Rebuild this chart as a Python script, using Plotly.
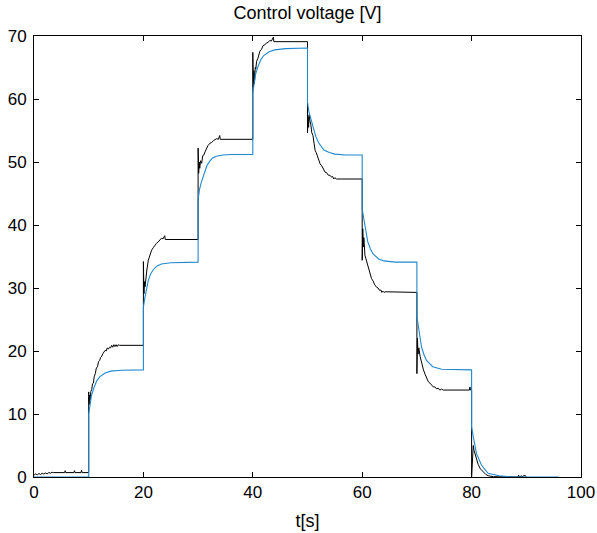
import plotly.graph_objects as go

# Model output (blue)
blue_t = [0, 10, 10, 10.25, 10.5, 11, 11.5, 12, 13, 14, 16, 20,
          20, 20.3, 20.6, 20.9, 21.3, 21.8, 22.5, 23.3, 25, 30,
          30, 30.25, 30.6, 31.2, 31.6, 32.1, 32.6, 33.3, 34.5, 36, 40,
          40, 40.25, 40.5, 41, 41.5, 42, 43, 44, 46, 50,
          50, 50.25, 50.5, 51, 51.5, 52, 52.5, 53, 54, 55, 57, 60,
          60, 60.2, 60.5, 61, 61.5, 62, 63, 64, 66, 70,
          70, 70.3, 70.85, 71.3, 71.75, 72.9, 74.5, 80,
          80, 80.3, 80.9, 81.8, 83, 85, 87, 96]
blue_v = [0, 0, 10, 11.8, 12.9, 14.3, 15.3, 15.9, 16.5, 16.8, 16.95, 17,
          27, 28.6, 30.0, 31.2, 32.2, 32.9, 33.5, 33.8, 34.0, 34.1,
          44, 45.6, 46.8, 48.5, 49.4, 50.1, 50.6, 50.9, 51.1, 51.2, 51.2,
          61, 62.6, 63.9, 65.3, 66.3, 66.9, 67.5, 67.8, 68.0, 68.1,
          59.5, 58.0, 57.2, 55.6, 54.1, 53.1, 52.4, 51.9, 51.5, 51.25, 51.1, 51.1,
          42.5, 41.5, 39.4, 37.4, 36.2, 35.4, 34.6, 34.3, 34.1, 34.1,
          25.5, 23.8, 20.6, 19.4, 18.5, 17.5, 17.1, 17.0,
          8.0, 6.4, 3.7, 1.9, 0.6, 0.2, 0.05, 0]

black_t = [0, 0.3, 0.6, 0.9, 1.2, 1.5, 1.8, 2.1, 2.4, 2.7, 3.0, 3.3, 3.6,
           5.6, 5.7, 5.8, 7.3, 7.4, 7.5, 8.6, 8.7, 8.8, 10,
           10, 10.08, 10.15, 10.25, 10.4, 10.55, 10.7, 10.85, 11.0, 11.2, 11.4,
           11.6, 11.8, 12.0, 12.2, 12.4, 12.6, 12.8, 13.0, 13.2, 13.4, 13.6,
           13.8, 14.0, 14.2, 14.4, 14.6, 14.8, 15.0, 15.2, 15.4, 15.6, 20,
           20, 20.1, 20.2, 20.3, 20.48, 20.65, 20.9, 21.1, 21.3, 21.5, 21.8,
           22.0, 22.4, 22.7, 23.0, 23.3, 23.6, 23.9, 24.0, 30,
           30, 30.1, 30.2, 30.3, 30.45, 30.65, 30.85, 31.05, 31.26, 31.5, 31.8,
           32.2, 32.5, 32.8, 33.1, 33.4, 33.7, 33.95, 34.05, 40,
           40, 40.1, 40.2, 40.3, 40.45, 40.55, 40.7, 40.95, 41.3, 41.6, 41.9,
           42.2, 42.5, 42.8, 43.1, 43.4, 43.75, 43.85, 50,
           50, 50.1, 50.2, 50.3, 50.45, 50.6, 50.77, 51.0, 51.2, 51.4, 51.6,
           51.9, 52.3, 52.6, 52.9, 53.2, 53.5, 53.8, 54.1, 54.4, 54.6, 54.8,
           55.0, 55.3, 60,
           60, 60.1, 60.2, 60.3, 60.5, 60.8, 61.1, 61.4, 61.7, 62.0, 62.3,
           62.65, 62.9, 63.2, 63.4, 63.6, 63.8, 64.0, 64.2, 70,
           70, 70.1, 70.2, 70.35, 70.6, 70.9, 71.2, 71.5, 71.8, 72.1, 72.4,
           72.7, 73.0, 73.3, 73.6, 73.9, 74.2, 74.5, 74.8, 79.6, 79.7, 79.8, 80,
           80, 80.3, 80.45, 80.6, 80.9, 81.2, 81.6, 82.1, 82.6, 83.05, 84,
           88.5, 88.6, 88.7, 89.2, 89.3, 89.4, 89.8, 89.9, 90]
black_v = [0.3, 0.5, 0.35, 0.55, 0.4, 0.6, 0.45, 0.65, 0.5, 0.7, 0.6, 0.75, 0.7,
           0.7, 1.0, 0.7, 0.7, 1.0, 0.7, 0.7, 1.05, 0.7, 0.7,
           13.5, 11.5, 13.0, 12.2, 13.6, 13.9, 14.8, 14.9, 15.9, 16.4, 17.3,
           17.5, 18.3, 18.5, 19.0, 19.2, 19.6, 19.8, 20.1, 20.0, 20.5, 20.3,
           20.6, 20.5, 20.9, 20.6, 21.0, 20.7, 21.0, 20.7, 21.0, 20.9, 20.9,
           34.2, 29.1, 31.0, 30.2, 32.3, 33.0, 34.4, 34.9, 35.6, 36.0, 36.4,
           36.7, 37.1, 37.3, 37.6, 37.9, 37.8, 38.3, 37.7, 37.7,
           52.2, 48.2, 50.0, 49.0, 50.2, 49.8, 51.0, 51.1, 51.6, 52.1, 52.6,
           53.0, 53.1, 53.4, 53.5, 53.7, 53.6, 54.2, 53.6, 53.6,
           67.4, 61.8, 64.5, 62.5, 65.0, 64.8, 66.0, 66.5, 67.6, 67.9, 68.5,
           68.6, 68.9, 69.0, 69.3, 69.2, 69.8, 69.1, 69.1,
           54.6, 57.2, 55.5, 57.5, 56.5, 56.0, 54.7, 54.2, 53.0, 51.8, 51.5,
           50.6, 49.7, 49.4, 48.9, 48.4, 48.3, 47.9, 47.9, 47.6, 47.7, 47.3,
           47.5, 47.3, 47.3,
           34.4, 39.4, 36.5, 38.0, 35.2, 34.3, 33.0, 32.4, 31.5, 31.1, 30.5,
           30.1, 30.0, 29.6, 29.7, 29.3, 29.5, 29.3, 29.4, 29.3,
           16.4, 22.0, 19.5, 20.5, 19.1, 17.9, 17.0, 16.3, 15.6, 15.1, 14.9,
           14.5, 14.3, 14.3, 14.0, 14.1, 13.8, 13.95, 13.8, 13.8, 14.3, 13.8, 13.8,
           0, 5.0, 4.2, 3.7, 2.8, 2.0, 1.3, 0.8, 0.4, 0.2, 0.05,
           0, 0.3, 0, 0.2, 0, 0.15, 0.25, 0, 0]

title_text = "Control voltage [V]"
x_label = "t[s]"
x_ticks = [0, 20, 40, 60, 80, 100]
y_ticks = [0, 10, 20, 30, 40, 50, 60, 70]

FONT = "Liberation Sans, Arial, sans-serif"

fig = go.Figure()
fig.add_trace(go.Scatter(x=black_t, y=black_v, mode="lines",
                         line=dict(color="#000000", width=1), showlegend=False))
fig.add_trace(go.Scatter(x=blue_t, y=blue_v, mode="lines",
                         line=dict(color="#1E88D0", width=1.1), showlegend=False))

axis_common = dict(showline=True, linecolor="#000000", linewidth=1, mirror="allticks",
                   ticks="inside", ticklen=5, tickcolor="#000000", tickwidth=1,
                   showgrid=False, zeroline=False, automargin=False,
                   tickfont=dict(family=FONT, size=17, color="#000000"))

fig.update_layout(
    width=597, height=533,
    margin=dict(l=34, r=16, t=36, b=56),
    paper_bgcolor="#ffffff", plot_bgcolor="#ffffff",
    hovermode=False,
    title=dict(text=title_text, x=0.5, xanchor="center", xref="paper",
               y=1 - 13 / 533, yanchor="middle", yref="container",
               font=dict(family=FONT, size=18, color="#000000")),
    xaxis=dict(range=[0, 100], tickvals=x_ticks, ticktext=[str(v) for v in x_ticks],
               title=dict(text=x_label, font=dict(family=FONT, size=18, color="#000000"), standoff=12),
               **axis_common),
    yaxis=dict(range=[0, 70], tickvals=y_ticks, ticktext=[str(v) for v in y_ticks],
               ticklabelstandoff=3, **axis_common),
)

# remove the browser's default page margin so the figure sits at the window's corner
fig.write_html("out.html", config={"displayModeBar": False},
               post_script="document.body.style.margin='0';")
